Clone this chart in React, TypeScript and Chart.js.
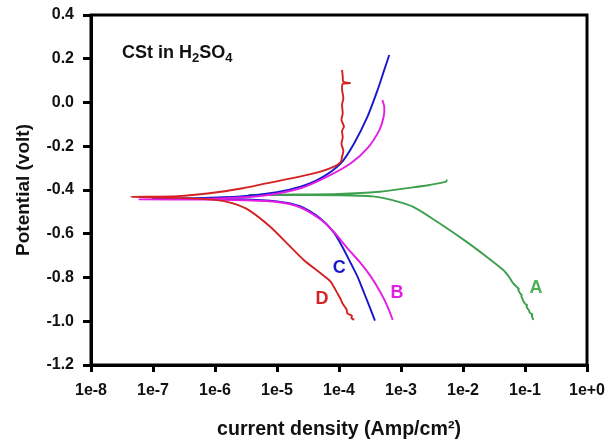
import React, { useEffect, useRef } from 'react';
import { Chart, registerables } from 'chart.js';

Chart.register(...registerables);

const FONT = "'Liberation Sans', Arial, Helvetica, sans-serif";

// Tick values / labels
const xTickValues = [1e-8, 1e-7, 1e-6, 1e-5, 1e-4, 1e-3, 1e-2, 1e-1, 1];
const xTickLabels = ['1e-8', '1e-7', '1e-6', '1e-5', '1e-4', '1e-3', '1e-2', '1e-1', '1e+0'];

// Curve A (green) – current density (A/cm2) and potential (V)
const curveACurrent = [
  0.136, 0.129, 0.131, 0.120, 0.116, 0.112, 0.106, 0.108, 0.100, 0.0933, 0.0871, 0.0885, 0.0832,
  0.0776, 0.0795, 0.0646, 0.0562, 0.0447, 0.0240, 0.0113, 0.00417, 0.00155, 7.0e-4, 3.5e-4, 1e-4,
  1e-5, 3.5e-6, 1e-5, 1e-4, 4.47e-4, 1.55e-3, 2.88e-3, 5.37e-3, 5.5e-3,
];
const curveAPotential = [
  -0.994, -0.975, -0.968, -0.962, -0.950, -0.945, -0.934, -0.926, -0.920, -0.905, -0.885, -0.880, -0.872,
  -0.855, -0.852, -0.827, -0.800, -0.766, -0.705, -0.636, -0.552, -0.476, -0.445, -0.429, -0.424,
  -0.423, -0.423, -0.421, -0.418, -0.408, -0.388, -0.377, -0.362, -0.352,
];

// Curve B (magenta)
const curveBCurrent = [
  7.36e-4, 6.10e-4, 4.75e-4, 3.27e-4, 2.25e-4, 1.37e-4, 8.30e-5, 5.05e-5, 2.40e-5, 1.0e-5, 3.16e-6,
  6.31e-7, 6.03e-8, 3.16e-7, 1.585e-6, 6.31e-6, 2.40e-5, 6.46e-5, 1.55e-4, 2.88e-4, 4.47e-4, 5.25e-4,
  5.37e-4, 5.01e-4,
];
const curveBPotential = [
  -0.994, -0.934, -0.872, -0.796, -0.735, -0.667, -0.592, -0.535, -0.480, -0.455, -0.447,
  -0.444, -0.443, -0.441, -0.437, -0.425, -0.392, -0.339, -0.278, -0.209, -0.126, -0.065,
  -0.019, 0.011,
];

// Curve C (blue)
const curveCCurrent = [
  3.80e-4, 3.27e-4, 2.55e-4, 1.99e-4, 1.55e-4, 1.205e-4, 8.30e-5, 5.01e-5, 2.34e-5,
  1.0e-5, 2.51e-6, 5.01e-7, 1.0e-7, 5.01e-7, 2.51e-6, 1.0e-5, 2.40e-5, 5.01e-5, 1.07e-4, 1.75e-4,
  2.88e-4, 4.19e-4, 5.37e-4, 6.46e-4,
];
const curveCPotential = [
  -0.997, -0.949, -0.872, -0.796, -0.735, -0.674, -0.595, -0.530, -0.474,
  -0.452, -0.442, -0.440, -0.439, -0.437, -0.430, -0.410, -0.385, -0.347, -0.278, -0.187,
  -0.065, 0.057, 0.149, 0.217,
];

// Curve D (red)
const curveDCurrent = [
  1.75e-4, 1.585e-4, 1.62e-4, 1.368e-4, 1.318e-4, 1.135e-4, 1.047e-4, 9.42e-5, 8.32e-5, 7.33e-5,
  5.05e-5, 2.70e-5, 1.45e-5, 7.78e-6, 3.46e-6, 1.95e-6, 1.0e-6, 2.51e-7, 4.39e-8, 2.51e-7, 8.13e-7,
  2.81e-6, 6.71e-6, 2.32e-5, 5.01e-5, 8.32e-5, 1.07e-4, 1.12e-4, 1.175e-4, 1.096e-4, 1.148e-4,
  1.12e-4, 1.202e-4, 1.096e-4, 1.148e-4, 1.12e-4, 1.175e-4, 1.12e-4, 1.148e-4, 1.51e-4, 1.175e-4,
  1.148e-4, 1.12e-4,
];
const curveDPotential = [
  -0.994, -0.985, -0.975, -0.964, -0.945, -0.918, -0.895, -0.872, -0.845, -0.819,
  -0.781, -0.720, -0.644, -0.568, -0.491, -0.461, -0.445, -0.436, -0.431, -0.428, -0.415,
  -0.392, -0.370, -0.339, -0.316, -0.293, -0.271, -0.248, -0.220, -0.190, -0.160,
  -0.130, -0.110, -0.080, -0.050, -0.010, 0.020, 0.060, 0.085, 0.088, 0.095,
  0.120, 0.149,
];

// Curve labels (placed in data coordinates)
const labelNames = ['A', 'B', 'C', 'D'];
const labelCurrents = [0.15, 8.6e-4, 1.01e-4, 5.33e-5];
const labelPotentials = [-0.849, -0.872, -0.758, -0.898];

const colors = {
  A: 'rgb(62,160,78)',
  B: 'rgb(228,30,228)',
  C: 'rgb(22,22,205)',
  D: 'rgb(212,34,34)',
};
const labelColors = ['rgb(80,175,90)', 'rgb(228,30,228)', 'rgb(22,22,205)', 'rgb(212,34,34)'];

function toPoints(xs: number[], ys: number[]) {
  return xs.map((x, i) => ({ x, y: ys[i] }));
}

export default function App() {
  const ref = useRef<HTMLCanvasElement>(null);

  useEffect(() => {
    if (!ref.current) return;

    const overlay = {
      id: 'overlay',
      afterDraw(chart: any) {
        const { ctx, chartArea: a, scales } = chart;
        ctx.save();
        ctx.strokeStyle = '#000';
        ctx.lineWidth = 3;
        ctx.strokeRect(a.left, a.top, a.right - a.left, a.bottom - a.top);

        // In-plot title with subscripts
        ctx.fillStyle = '#111';
        ctx.textAlign = 'left';
        ctx.textBaseline = 'alphabetic';
        const big = `bold 18px ${FONT}`;
        const small = `bold 13px ${FONT}`;
        const parts: [string, string, number][] = [
          ['CSt in H', big, 0],
          ['2', small, 4],
          ['SO', big, 0],
          ['4', small, 4],
        ];
        let x = a.left + 31;
        const y = a.top + 43;
        for (const [t, f, dy] of parts) {
          ctx.font = f;
          ctx.fillText(t, x, y + dy);
          x += ctx.measureText(t).width;
        }

        // Curve letters
        ctx.textAlign = 'center';
        ctx.textBaseline = 'middle';
        ctx.font = `bold 18px ${FONT}`;
        labelNames.forEach((n, i) => {
          ctx.fillStyle = labelColors[i];
          ctx.fillText(
            n,
            scales.x.getPixelForValue(labelCurrents[i]),
            scales.y.getPixelForValue(labelPotentials[i])
          );
        });
        ctx.restore();
      },
    };

    const mk = (label: string, xs: number[], ys: number[], color: string) => ({
      label,
      data: toPoints(xs, ys),
      showLine: true,
      borderColor: color,
      backgroundColor: color,
      borderWidth: 1.9,
      pointRadius: 0,
      tension: 0.25,
    });

    const chart = new Chart(ref.current, {
      type: 'scatter',
      data: {
        datasets: [
          mk('D', curveDCurrent, curveDPotential, colors.D),
          mk('B', curveBCurrent, curveBPotential, colors.B),
          mk('C', curveCCurrent, curveCPotential, colors.C),
          mk('A', curveACurrent, curveAPotential, colors.A),
        ],
      },
      options: {
        responsive: false,
        animation: false,
        layout: { padding: { left: 0, top: 15, right: 28, bottom: 0 } },
        plugins: {
          legend: { display: false },
          tooltip: { enabled: false },
        },
        scales: {
          x: {
            type: 'logarithmic',
            min: 1e-8,
            max: 1,
            position: 'bottom',
            afterBuildTicks: (scale: any) => {
              scale.ticks = xTickValues.map((v) => ({ value: v }));
            },
            afterFit: (scale: any) => {
              scale.height = 79;
            },
            ticks: {
              autoSkip: false,
              maxRotation: 0,
              minRotation: 0,
              padding: 9,
              color: '#111',
              font: { family: FONT, size: 16, weight: 'bold' },
              callback: (_v: any, i: number) => xTickLabels[i],
            },
            grid: {
              drawOnChartArea: false,
              drawTicks: true,
              tickLength: 7,
              color: '#000',
              lineWidth: 3,
            },
            border: { display: true, color: '#000', width: 3 },
            title: {
              display: true,
              text: 'current density (Amp/cm²)',
              color: '#111',
              font: { family: FONT, size: 19.6, weight: 'bold' },
              padding: { top: 0, bottom: 3 },
            },
          },
          y: {
            type: 'linear',
            min: -1.2,
            max: 0.4,
            afterFit: (scale: any) => {
              scale.width = 91;
              scale.paddingTop = 0;
              scale.paddingBottom = 0;
            },
            ticks: {
              stepSize: 0.2,
              padding: 9,
              color: '#111',
              font: { family: FONT, size: 16, weight: 'bold' },
              callback: (v: any) => {
                const n = Number(v);
                return (Math.abs(n) < 1e-9 ? 0 : n).toFixed(1);
              },
            },
            grid: {
              drawOnChartArea: false,
              drawTicks: true,
              tickLength: 8,
              color: '#000',
              lineWidth: 3,
            },
            border: { display: true, color: '#000', width: 3 },
            title: {
              display: true,
              text: 'Potential (volt)',
              color: '#111',
              font: { family: FONT, size: 19, weight: 'bold' },
              padding: { top: 12, bottom: 0 },
            },
          },
        },
      },
      plugins: [overlay],
    } as any);

    return () => chart.destroy();
  }, []);

  return (
    <div style={{ position: 'fixed', left: 0, top: 0, width: 615, height: 444, background: '#fff' }}>
      <canvas ref={ref} width={615} height={444} style={{ display: 'block' }} />
    </div>
  );
}
